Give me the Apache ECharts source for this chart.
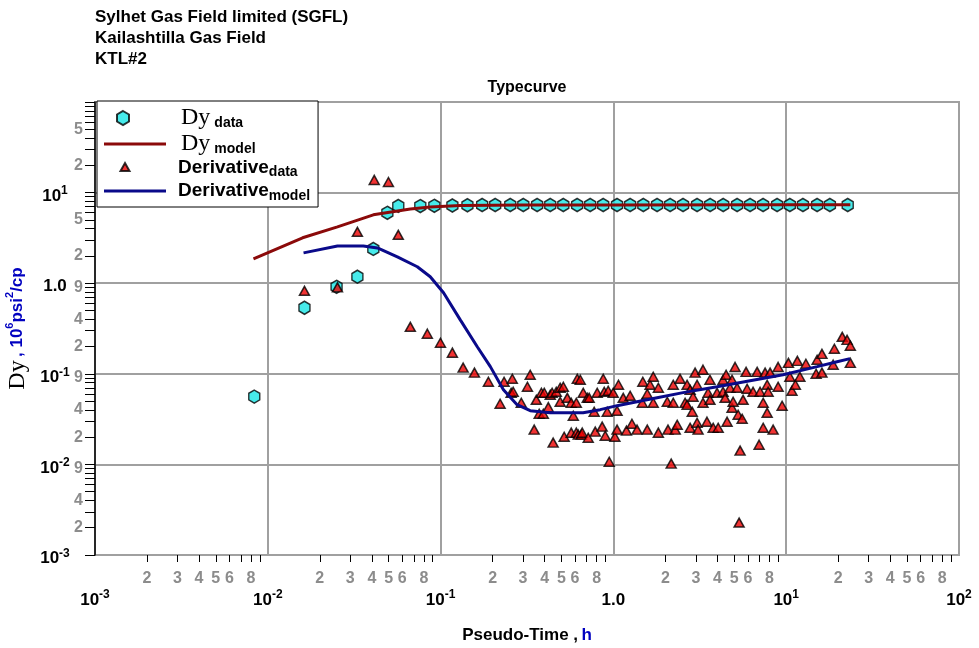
<!DOCTYPE html>
<html>
<head>
<meta charset="utf-8">
<script src="https://cdn.jsdelivr.net/npm/echarts@6/dist/echarts.min.js"></script>
<style>
  html, body { margin: 0; padding: 0; background: #fff; }
  #chart { width: 979px; height: 648px; }
</style>
</head>
<body>
<div id="chart"></div>
<script>
// Dy measurements (pseudo-time in h, Dy in 10^6 psi^2/cp)
const dyDataT = [0.00835, 0.0163, 0.0250, 0.0330, 0.0408, 0.0492, 0.0569,
  0.0763, 0.0920, 0.117, 0.143, 0.174, 0.207, 0.253, 0.301, 0.362, 0.431,
  0.513, 0.617, 0.734, 0.873, 1.05, 1.25, 1.49, 1.79, 2.13, 2.53, 3.05, 3.63,
  4.32, 5.20, 6.18, 7.35, 8.86, 10.5, 12.5, 15.1, 17.9, 22.7];
const dyDataV = [0.056, 0.536, 0.912, 1.18, 2.39, 5.98, 7.13,
  7.10, 7.15, 7.20, 7.25, 7.30, 7.30, 7.30, 7.30, 7.30, 7.30,
  7.30, 7.30, 7.30, 7.30, 7.30, 7.30, 7.30, 7.30, 7.30, 7.30, 7.30, 7.30,
  7.30, 7.30, 7.30, 7.30, 7.30, 7.30, 7.30, 7.30, 7.30, 7.30];

// Dy model curve
const dyModelT = [0.00826, 0.0159, 0.0253, 0.0408, 0.0668, 0.0871, 0.130, 0.300, 1.00, 10.0, 23.5];
const dyModelV = [1.86, 3.17, 4.19, 5.68, 6.60, 6.95, 7.20, 7.30, 7.32, 7.33, 7.33];

// Derivative measurements
const derivDataT = [
  0.0163, 0.0253, 0.033, 0.0413, 0.0499, 0.0569, 0.0668, 0.0838, 0.0998, 0.117,
  0.135, 0.157, 0.189, 0.221, 0.233, 0.256, 0.263, 0.260, 0.293, 0.318,
  0.330, 0.348, 0.358, 0.372, 0.383, 0.393, 0.398, 0.420, 0.431, 0.442,
  0.448, 0.467, 0.492, 0.492, 0.513, 0.519, 0.541, 0.570, 0.570, 0.610,
  0.586, 0.610, 0.618, 0.626, 0.643, 0.652, 0.660, 0.669, 0.706, 0.715,
  0.724, 0.774, 0.785, 0.806, 0.861, 0.873, 0.885, 0.897, 0.921, 0.933,
  0.946, 0.997, 1.02, 1.05, 1.05, 1.07, 1.14, 1.19, 1.25, 1.28,
  1.37, 1.47, 1.48, 1.57, 1.57, 1.63, 1.70, 1.70, 1.82, 1.82,
  2.05, 2.07, 2.16, 2.22, 2.22, 2.28, 2.34, 2.43, 2.60, 2.67,
  2.67, 2.78, 2.78, 2.86, 2.89, 2.97, 3.05, 3.05, 3.09, 3.30,
  3.30, 3.48, 3.53, 3.62, 3.62, 3.78, 3.98, 4.04, 4.31, 4.31,
  4.43, 4.49, 4.55, 4.73, 4.86, 4.86, 4.93, 5.06, 5.20, 5.27,
  5.34, 5.41, 5.56, 5.63, 5.86, 5.94, 6.43, 6.79, 6.97, 7.06,
  7.36, 7.36, 7.55, 7.76, 7.76, 7.86, 8.07, 8.40, 8.98, 8.98,
  9.47, 10.3, 10.5, 10.8, 11.3, 11.6, 12.0, 13.0, 14.9, 15.1,
  16.1, 16.1, 18.7, 19.0, 21.1, 22.5, 23.5, 23.5];
const derivDataV = [
  0.824, 0.90, 3.69, 13.8, 13.1, 3.42, 0.330, 0.277, 0.220, 0.171,
  0.117, 0.103, 0.0816, 0.0467, 0.0816, 0.0617, 0.0633, 0.0881, 0.0479, 0.0719,
  0.0975, 0.0242, 0.0516, 0.0362, 0.0617, 0.0362, 0.0617, 0.0428, 0.0587, 0.0617,
  0.0174, 0.0633, 0.0701, 0.0491, 0.0719, 0.0202, 0.0543, 0.0479, 0.0224, 0.0479,
  0.0344, 0.0224, 0.0881, 0.0213, 0.0859, 0.0213, 0.0224, 0.0617, 0.0543, 0.0197,
  0.0543, 0.0381, 0.0230, 0.0617, 0.0261, 0.0881, 0.0633, 0.0207, 0.0381, 0.0650,
  0.0107, 0.0617, 0.0202, 0.0391, 0.0242, 0.0756, 0.0543, 0.0236, 0.0572, 0.0281,
  0.0242, 0.0479, 0.0816, 0.0602, 0.0242, 0.0756, 0.0927, 0.0479, 0.0701, 0.0224,
  0.0491, 0.0242, 0.0102, 0.0756, 0.0479, 0.0242, 0.0274, 0.0881, 0.0479, 0.0756,
  0.0455, 0.0254, 0.0667, 0.0381, 0.0558, 0.103, 0.0756, 0.0288, 0.0242, 0.111,
  0.0479, 0.0296, 0.0617, 0.0859, 0.0516, 0.0254, 0.0617, 0.0254, 0.0859, 0.0633,
  0.0543, 0.0975, 0.0296, 0.0701, 0.0859, 0.0422, 0.0491, 0.119, 0.0701, 0.0353,
  0.00228, 0.0142, 0.0319, 0.0516, 0.105, 0.0684, 0.0633, 0.105, 0.0165, 0.0633,
  0.0479, 0.0254, 0.103, 0.0756, 0.0372, 0.0633, 0.103, 0.0242, 0.119, 0.0719,
  0.0444, 0.132, 0.0927, 0.0650, 0.0756, 0.139, 0.0927, 0.129, 0.100, 0.143,
  0.166, 0.103, 0.126, 0.189, 0.256, 0.237, 0.204, 0.132];

// Derivative model curve
const derivModelT = [0.0161, 0.0253, 0.0357, 0.0431, 0.0562, 0.0733, 0.0871, 0.104, 0.130,
  0.163, 0.194, 0.231, 0.277, 0.330, 0.430, 0.668, 0.839, 1.05, 1.37, 1.79, 2.53,
  3.98, 6.18, 9.59, 15.1, 19.7, 23.4];
const derivModelV = [2.16, 2.58, 2.58, 2.45, 1.95, 1.52, 1.18, 0.783, 0.394,
  0.199, 0.120, 0.0668, 0.0456, 0.0392, 0.0372, 0.0372, 0.0402, 0.0445, 0.0492, 0.0544, 0.0620,
  0.0721, 0.0839, 0.0977, 0.120, 0.136, 0.147];

// Axis decades and the intermediate values that carry tick marks / digit labels
const decades = [-3, -2, -1, 0, 1];
const xMinorTickDigits = [2, 3, 4, 5, 6, 7, 8, 9];
const xMinorLabelDigits = [2, 3, 4, 5, 6, 8];
const yMinorTickDigits = [1, 2, 3, 4, 5, 6, 7, 8, 9];
const yMinorLabelValues = [20, 50, 2, 5, 0.2, 0.4, 0.9, 0.02, 0.04, 0.09, 0.002, 0.004, 0.009];

const FONT = 'Liberation Sans, Arial, sans-serif';
const SERIF = 'Liberation Serif, Times New Roman, serif';

const zip = (a, b) => a.map((v, i) => [v, b[i]]);
const expand = (digits) => {
  const out = [];
  decades.forEach(d => digits.forEach(k => out.push(Math.log10(k * Math.pow(10, d)))));
  return out;
};
const digitOf = (e) => String(Math.round(Math.pow(10, e - Math.floor(e + 1e-9))));

const decadeLabel = (v) => {
  const e = Math.round(Math.log10(v));
  if (e === 0) return '{b|1.0}';
  return '{b|10}{s|' + e + '}';
};

const supRich = {
  b: { fontFamily: FONT, fontSize: 17, fontWeight: 'bold', color: '#000', lineHeight: 22 },
  s: { fontFamily: FONT, fontSize: 12, fontWeight: 'bold', color: '#000', lineHeight: 14, verticalAlign: 'top' }
};

const hexPath = 'path://M0,-10 L8.66,-5 L8.66,5 L0,10 L-8.66,5 L-8.66,-5 Z';

const chart = echarts.init(document.getElementById('chart'), null, { renderer: 'canvas' });

const option = {
  backgroundColor: '#fff',
  animation: false,
  title: {
    text: 'Sylhet Gas Field limited (SGFL)\nKailashtilla Gas Field\nKTL#2',
    left: 90,
    top: 2,
    textStyle: { fontFamily: FONT, fontSize: 17, fontWeight: 'bold', color: '#000', lineHeight: 21 }
  },
  graphic: [{
    type: 'text',
    x: 527,
    y: 88,
    style: {
      text: 'Typecurve', fontFamily: FONT, fontSize: 16, fontWeight: 'bold', fill: '#000',
      align: 'center', verticalAlign: 'middle'
    }
  }],
  grid: {
    left: 95, top: 102, width: 864, height: 453,
    outerBoundsMode: 'none', containLabel: false,
    show: true, borderColor: '#a0a0a0', borderWidth: 2, backgroundColor: '#fff'
  },
  legend: {
    left: 97, top: 101,
    orient: 'vertical',
    backgroundColor: '#fff',
    borderColor: '#000', borderWidth: 1,
    padding: [5, 8, 4, 6],
    itemGap: 2,
    itemWidth: 62, itemHeight: 14,
    data: [
      { name: 'Dy data', icon: 'path://M0,0 M62,14 M19,0 L25,3.5 L25,10.5 L19,14 L13,10.5 L13,3.5 Z' },
      { name: 'Dy model', icon: 'path://M0,0 M62,14 M0,5.5 L62,5.5 L62,8.5 L0,8.5 Z' },
      { name: 'Derivative data', icon: 'path://M0,0 M62,14 M21,2.5 L25.5,10.5 L16.5,10.5 Z' },
      { name: 'Derivative model', icon: 'path://M0,0 M62,14 M0,5.5 L62,5.5 L62,8.5 L0,8.5 Z' }
    ],
    formatter: (name) => ({
      'Dy data': '{dy|Dy}{sub|data}',
      'Dy model': '{dy|Dy}{sub|model}',
      'Derivative data': '{dv|Derivative}{sub|data}',
      'Derivative model': '{dv|Derivative}{sub|model}'
    })[name],
    textStyle: {
      rich: {
        dy: { fontFamily: SERIF, fontSize: 24, color: '#000', lineHeight: 24, padding: [0, 4, 0, 10] },
        dv: { fontFamily: FONT, fontSize: 19, fontWeight: 'bold', color: '#000', lineHeight: 24, padding: [0, 0, 0, 7] },
        sub: { fontFamily: FONT, fontSize: 14, fontWeight: 'bold', color: '#000', lineHeight: 15, verticalAlign: 'bottom' }
      }
    }
  },
  xAxis: [{
    type: 'log', logBase: 10, min: 0.001, max: 100,
    gridIndex: 0, position: 'bottom',
    name: '{a|Pseudo-Time ,} {h|h}',
    nameLocation: 'middle', nameGap: 72,
    nameTextStyle: {
      rich: {
        a: { fontFamily: FONT, fontSize: 17, fontWeight: 'bold', color: '#000' },
        h: { fontFamily: FONT, fontSize: 17, fontWeight: 'bold', color: '#0000c0' }
      }
    },
    axisLine: { show: false, onZero: false },
    axisTick: { show: false },
    splitLine: { show: true, lineStyle: { color: '#a0a0a0', width: 2 } },
    axisLabel: { margin: 34, formatter: decadeLabel, rich: supRich, showMinLabel: true, showMaxLabel: true }
  }, {
    type: 'value', min: -3, max: 2,
    gridIndex: 0, position: 'bottom',
    axisLine: { show: false, onZero: false },
    splitLine: { show: false },
    axisTick: { show: true, inside: false, length: 7, customValues: expand(xMinorTickDigits), lineStyle: { color: '#000', width: 1 } },
    axisLabel: {
      margin: 16, customValues: expand(xMinorLabelDigits), formatter: digitOf,
      fontFamily: FONT, fontSize: 16, fontWeight: 'bold', color: '#8c8c8c'
    }
  }],
  yAxis: [{
    type: 'log', logBase: 10, min: 0.001, max: 100,
    gridIndex: 0, position: 'left',
    name: '{dy|Dy} {u|, 10}{sup|6}{u|psi}{sup|2}{u|/cp}',
    nameLocation: 'middle', nameRotate: 90, nameGap: 60,
    nameTextStyle: {
      rich: {
        dy: { fontFamily: SERIF, fontSize: 24, color: '#000', lineHeight: 26 },
        u: { fontFamily: FONT, fontSize: 17, fontWeight: 'bold', color: '#0000c0', lineHeight: 26 },
        sup: { fontFamily: FONT, fontSize: 11, fontWeight: 'bold', color: '#0000c0', lineHeight: 18, verticalAlign: 'top' }
      }
    },
    axisLine: { show: true, onZero: false, lineStyle: { color: '#000', width: 1.5 } },
    axisTick: { show: false },
    splitLine: { show: true, lineStyle: { color: '#a0a0a0', width: 2 } },
    axisLabel: {
      margin: 40, align: 'center', padding: [7, 0, 0, 0],
      formatter: decadeLabel, rich: supRich, showMaxLabel: false, showMinLabel: true
    }
  }, {
    type: 'value', min: -3, max: 2,
    gridIndex: 0, position: 'left',
    axisLine: { show: false, onZero: false },
    splitLine: { show: false },
    axisTick: {
      show: true, inside: false, length: 10,
      customValues: expand(yMinorTickDigits).concat([2]),
      lineStyle: { color: '#000', width: 1 }
    },
    axisLabel: {
      margin: 12, customValues: yMinorLabelValues.map(v => Math.log10(v)), formatter: digitOf,
      fontFamily: FONT, fontSize: 16, fontWeight: 'bold', color: '#8c8c8c'
    }
  }],
  series: [{
    name: 'Dy data',
    type: 'scatter',
    xAxisIndex: 0, yAxisIndex: 0,
    z: 2,
    symbol: hexPath,
    symbolSize: [11, 13],
    itemStyle: { color: '#19e6e6', borderColor: '#000', borderWidth: 1.5 },
    data: zip(dyDataT, dyDataV)
  }, {
    name: 'Derivative data',
    type: 'scatter',
    xAxisIndex: 0, yAxisIndex: 0,
    z: 3,
    symbol: 'triangle',
    symbolSize: [10, 9],
    itemStyle: { color: '#ee0000', borderColor: '#000', borderWidth: 1.5 },
    data: zip(derivDataT, derivDataV)
  }, {
    name: 'Derivative model',
    type: 'line',
    xAxisIndex: 0, yAxisIndex: 0,
    z: 4,
    symbol: 'none',
    color: '#0a0a8a',
    lineStyle: { color: '#0a0a8a', width: 3 },
    data: zip(derivModelT, derivModelV)
  }, {
    name: 'Dy model',
    type: 'line',
    xAxisIndex: 0, yAxisIndex: 0,
    z: 5,
    symbol: 'none',
    color: '#8b0a0a',
    lineStyle: { color: '#8b0a0a', width: 3 },
    data: zip(dyModelT, dyModelV)
  }]
};

chart.setOption(option);
</script>
</body>
</html>
